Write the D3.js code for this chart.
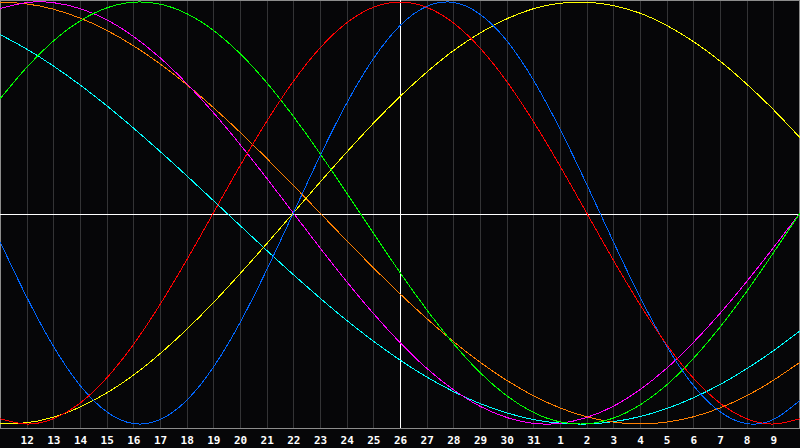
<!DOCTYPE html>
<html>
<head>
<meta charset="utf-8">
<script src="https://cdn.jsdelivr.net/npm/d3@7"></script>
<style>
  html, body { margin: 0; padding: 0; background: #060608; }
  .chart svg { display: block; }
</style>
</head>
<body>
<div class="chart"></div>
<script>
'use strict';
// day offsets 0..30 (x=0 is the 11th, x=800 the 10th of next month)
var days = d3.range(0, 31);
var tickDays = d3.range(1, 30);
var tickLabels = ["12","13","14","15","16","17","18","19","20","21","22","23","24","25","26","27","28","29","30","31",
                  "1","2","3","4","5","6","7","8","9"];
var today = 15;

// values, one per day
var physical = [-0.136,-0.398,-0.631,-0.817,-0.942,-0.998,-0.979,-0.888,-0.731,-0.520,-0.270,0,0.270,0.520,0.731,0.888,
                0.979,0.998,0.942,0.817,0.631,0.398,0.136,-0.136,-0.398,-0.631,-0.817,-0.942,-0.998,-0.979,-0.888];
var emotional = [-0.975,-1,-0.975,-0.901,-0.782,-0.624,-0.434,-0.223,0,0.223,0.434,0.624,0.782,0.901,0.975,1,
                 0.975,0.901,0.782,0.624,0.434,0.223,0,-0.223,-0.434,-0.624,-0.782,-0.901,-0.975,-1,-0.975];
var intellectual = [0.541,0.690,0.815,0.910,0.972,0.999,0.990,0.945,0.866,0.756,0.618,0.458,0.282,0.095,-0.095,-0.282,
                    -0.458,-0.618,-0.756,-0.866,-0.945,-0.990,-0.999,-0.972,-0.910,-0.815,-0.690,-0.541,-0.372,-0.189,0];
var intuitive = [0.969,0.997,0.997,0.969,0.916,0.837,0.736,0.614,0.476,0.325,0.165,0,-0.165,-0.325,-0.476,-0.614,
                 -0.736,-0.837,-0.916,-0.969,-0.997,-0.997,-0.969,-0.916,-0.837,-0.736,-0.614,-0.476,-0.325,-0.165,0];
var aesthetic = [-0.999,-0.994,-0.968,-0.920,-0.853,-0.769,-0.667,-0.552,-0.425,-0.288,-0.146,0,0.146,0.288,0.425,0.552,
                 0.667,0.769,0.853,0.920,0.968,0.994,0.999,0.983,0.947,0.889,0.813,0.720,0.611,0.490,0.357];
var awareness = [1,0.991,0.966,0.924,0.866,0.793,0.707,0.609,0.5,0.383,0.259,0.131,0,-0.131,-0.259,-0.383,
                 -0.5,-0.609,-0.707,-0.793,-0.866,-0.924,-0.966,-0.991,-1,-0.991,-0.966,-0.924,-0.866,-0.793,-0.707];
var spiritual = [0.846,0.777,0.697,0.607,0.509,0.403,0.292,0.177,0.059,-0.059,-0.177,-0.292,-0.403,-0.509,-0.607,-0.697,
                 -0.777,-0.846,-0.903,-0.947,-0.979,-0.996,-1,-0.989,-0.965,-0.927,-0.876,-0.813,-0.738,-0.653,-0.559];

var series = [
  { name: "spiritual", values: spiritual, color: "#00ffff" },
  { name: "awareness", values: awareness, color: "#ff8000" },
  { name: "intuitive", values: intuitive, color: "#ff00ff" },
  { name: "aesthetic", values: aesthetic, color: "#ffff00" },
  { name: "intellectual", values: intellectual, color: "#00ff00" },
  { name: "physical", values: physical, color: "#0066ff" },
  { name: "emotional", values: emotional, color: "#ff0000" }
];

var W = 800, H = 448, plotH = 428;

var chart = d3.select(".chart")
  .append("svg")
    .attr("width", W)
    .attr("height", H);

chart.append("rect")
  .attr("width", W).attr("height", H)
  .attr("fill", "#060608");

var xScale = d3.scaleLinear().domain([0, 30]).range([0, W]);
var yScale = d3.scaleLinear().domain([-1, 1]).range([424, 2]);

// day grid + labels
var xAxis = d3.axisBottom(xScale)
  .tickValues(tickDays)
  .tickFormat(function(d, i) { return tickLabels[i]; })
  .tickSizeInner(-plotH)
  .tickSizeOuter(0)
  .tickPadding(8);

var gx = chart.append("g")
  .attr("transform", "translate(0," + plotH + ")")
  .call(xAxis);

gx.select(".domain").remove();
gx.selectAll(".tick line")
  .attr("stroke", "#333335")
  .attr("shape-rendering", "crispEdges");
gx.selectAll(".tick text")
  .attr("fill", "#ffffff")
  .style("font-family", "'DejaVu Sans Mono', monospace")
  .style("font-weight", "bold")
  .style("font-size", "11px");

// frame
chart.append("rect")
  .attr("x", 0.5).attr("y", 0.5)
  .attr("width", W - 1).attr("height", plotH - 0.5)
  .attr("fill", "none")
  .attr("stroke", "#8c8c8c")
  .attr("shape-rendering", "crispEdges");

// zero line and today line
chart.append("line")
  .attr("x1", 0).attr("x2", W)
  .attr("y1", yScale(0) + 1.5).attr("y2", yScale(0) + 1.5)
  .attr("stroke", "#ffffff")
  .attr("shape-rendering", "crispEdges");

chart.append("line")
  .attr("x1", xScale(today) + 0.5).attr("x2", xScale(today) + 0.5)
  .attr("y1", 0).attr("y2", plotH)
  .attr("stroke", "#ffffff")
  .attr("shape-rendering", "crispEdges");

var line = d3.line()
  .x(function(d, i) { return xScale(days[i]); })
  .y(function(d) { return yScale(d); })
  .curve(d3.curveNatural);

chart.selectAll(".bio")
  .data(series)
  .enter()
  .append("path")
    .attr("class", "bio")
    .attr("d", function(s) { return line(s.values); })
    .attr("fill", "none")
    .attr("stroke", function(s) { return s.color; })
    .attr("stroke-width", 1)
    .attr("shape-rendering", "crispEdges");
</script>
</body>
</html>
